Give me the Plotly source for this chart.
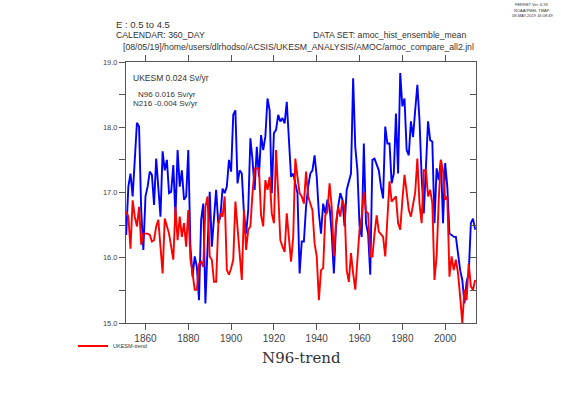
import plotly.graph_objects as go

years = list(range(1851, 2015))

n96_trend = [
    16.35, 17.09, 17.29, 16.94, 17.50, 18.07, 18.01, 16.73, 16.12, 16.94,
    17.09, 17.32, 17.27, 16.81, 17.52, 17.09, 16.63, 17.63, 17.34, 17.50,
    16.99, 17.01, 17.42, 16.63, 17.65, 17.09, 17.34, 16.89, 16.94, 17.65,
    16.17, 15.71, 16.02, 15.86, 15.35, 16.58, 16.83, 15.30, 16.17, 17.01,
    16.17, 16.58, 17.04, 16.53, 16.63, 17.06, 16.99, 17.09, 17.50, 17.32,
    18.19, 18.26, 17.14, 17.34, 17.29, 16.68, 16.37, 16.73, 17.83, 17.50,
    17.04, 17.70, 17.24, 17.88, 17.65, 17.86, 18.44, 18.26, 16.99, 17.91,
    17.96, 18.19, 18.09, 18.14, 18.06, 18.39, 17.70, 17.24, 17.29, 17.11,
    16.99, 15.76, 16.25, 16.25, 16.78, 17.09, 17.29, 17.34, 17.57, 17.24,
    16.68, 16.37, 16.83, 16.68, 16.89, 16.78, 16.37, 15.76, 16.48, 16.78,
    16.99, 16.89, 16.48, 17.04, 17.19, 17.29, 18.75, 17.70, 17.34, 16.48,
    16.32, 17.75, 16.53, 16.37, 15.74, 17.50, 17.52, 17.42, 17.34, 17.09,
    16.91, 18.01, 17.75, 17.75, 17.14, 17.29, 18.21, 17.29, 18.83, 18.32,
    18.44, 17.65, 17.57, 18.09, 17.85, 18.26, 18.65, 18.11, 17.24, 16.68,
    17.34, 18.09, 17.80, 17.78, 16.53, 17.37, 17.19, 17.50, 16.53, 17.45,
    17.09, 16.37, 16.35, 16.32, 16.32, 16.02, 15.81, 15.66, 15.30, 15.63,
    15.76, 16.53, 16.60, 16.43,
]

ukesm_trend = [
    16.71, 16.63, 16.14, 16.88, 16.63, 16.48, 16.78, 16.20, 16.37, 16.37,
    16.37, 16.35, 16.25, 16.27, 16.48, 16.58, 16.17, 15.76, 16.60, 16.48,
    16.37, 16.17, 15.97, 16.78, 16.27, 16.63, 16.32, 16.53, 16.17, 16.73,
    15.97, 15.76, 15.51, 15.51, 15.91, 15.94, 15.86, 16.78, 16.94, 16.02,
    15.97, 15.63, 15.63, 16.50, 16.68, 16.63, 16.94, 15.81, 15.74, 15.84,
    15.97, 16.86, 16.45, 15.97, 15.66, 16.73, 16.12, 16.43, 16.48, 16.99,
    17.37, 17.37, 17.37, 16.65, 16.48, 17.19, 17.04, 17.24, 16.68, 16.53,
    17.65, 16.99, 16.27, 16.17, 16.09, 16.68, 16.27, 15.94, 16.32, 17.52,
    17.24, 16.99, 16.94, 16.83, 17.32, 16.94, 16.83, 16.73, 16.22, 16.02,
    15.35, 15.81, 15.84, 16.65, 16.71, 17.14, 16.78, 16.02, 16.53, 16.78,
    16.63, 16.88, 16.78, 15.81, 15.63, 16.07, 15.76, 15.51, 15.97, 16.43,
    16.63, 17.01, 16.71, 16.68, 16.02, 16.02, 16.37, 16.65, 16.40, 16.35,
    16.32, 16.02, 16.63, 17.17, 16.86, 16.91, 16.94, 16.53, 16.43, 16.88,
    17.27, 17.01, 16.73, 16.63, 16.83, 17.00, 17.52, 16.83, 16.53, 17.34,
    17.34, 16.94, 17.04, 16.83, 15.66, 16.02, 16.89, 17.50, 17.34, 16.89,
    16.94, 15.71, 16.02, 15.81, 15.97, 15.76, 15.40, 15.00, 15.51, 15.35,
    15.91, 15.56, 15.51, 15.66,
]

x_ticks = [1860, 1880, 1900, 1920, 1940, 1960, 1980, 2000]
x_range = [1850.9, 2014.4]
y_range = [15.0, 19.0]

W, H = 561, 397
L, R, T, B = 126, 85, 62, 74
PW, PH = W - L - R, H - T - B


def px(xp):
    return (xp - L) / PW


def py(yp):
    return (H - B - yp) / PH


AX = "#555555"
TXT = "#333333"
SANS = "Liberation Sans, Arial, sans-serif"

fig = go.Figure()
fig.add_trace(go.Scatter(
    x=years, y=n96_trend, mode="lines", name="N96-trend",
    line=dict(color="#0000ff", width=1.9), showlegend=False,
))
fig.add_trace(go.Scatter(
    x=years, y=ukesm_trend, mode="lines", name="UKESM-trend",
    line=dict(color="#ff0000", width=1.9), yaxis="y2",
))

fig.update_layout(
    width=W, height=H,
    margin=dict(l=L, r=R, t=T, b=B),
    paper_bgcolor="white", plot_bgcolor="white",
    font=dict(family=SANS, color=TXT),
    xaxis=dict(
        range=x_range, tickvals=x_ticks, ticks="outside", ticklen=6,
        tickcolor=AX, showline=True, linecolor=AX, linewidth=1,
        mirror="ticks", showgrid=False, zeroline=False,
        tickfont=dict(size=10, color="#444444", family=SANS),
    ),
    yaxis=dict(
        range=y_range, tick0=15, dtick=1, tickformat=".1f",
        ticks="outside", ticklen=6, tickcolor=AX,
        minor=dict(dtick=0.5, ticks="outside", ticklen=6, tickcolor=AX),
        showline=True, linecolor=AX, linewidth=1,
        showgrid=False, zeroline=False,
        tickfont=dict(size=7.5, color="#444444", family=SANS),
    ),
    yaxis2=dict(
        range=y_range, overlaying="y", side="right", tick0=15, dtick=0.5,
        ticks="inside", ticklen=6, tickcolor=AX, showticklabels=False,
        showline=True, linecolor=AX, linewidth=1,
        showgrid=False, zeroline=False,
    ),
    showlegend=True,
    legend=dict(
        x=px(73), y=py(346), xanchor="left", yanchor="middle",
        font=dict(size=5.5, color=TXT, family=SANS),
        bgcolor="rgba(0,0,0,0)", itemwidth=30,
    ),
)


def note(text, xp, yp, size=8.7, anchor="left", family=SANS):
    fig.add_annotation(
        text=text, x=px(xp), y=py(yp), xref="paper", yref="paper",
        xanchor=anchor, yanchor="middle", showarrow=False,
        font=dict(size=size, color=TXT, family=family),
    )


note("E : 0.5 to 4.5", 114, 24, size=9.5)
note("CALENDAR: 360_DAY", 114, 35)
note("DATA SET: amoc_hist_ensemble_mean", 311, 35)
note("[08/05/19]/home/users/dlrhodso/ACSIS/UKESM_ANALYSIS/AMOC/amoc_compare_all2.jnl", 121, 47)
note("FERRET Ver. 6.93", 532, 5, size=4, anchor="center")
note("NOAA/PMEL TMAP", 532, 10, size=4, anchor="center")
note("08-MAY-2019 16:08:49", 532, 15, size=4, anchor="center")
note("UKESM 0.024 Sv/yr", 131, 78, size=8.5)
note("N96 0.016 Sv/yr", 136, 94.5, size=8)
note("N216 -0.004 Sv/yr", 131, 103.5, size=8)
note("N96-trend", 301, 358, size=15, anchor="center", family="DejaVu Serif, serif")

fig.write_html(
    "out.html",
    config={"displayModeBar": False},
    post_script="document.body.style.margin='0px';",
)
